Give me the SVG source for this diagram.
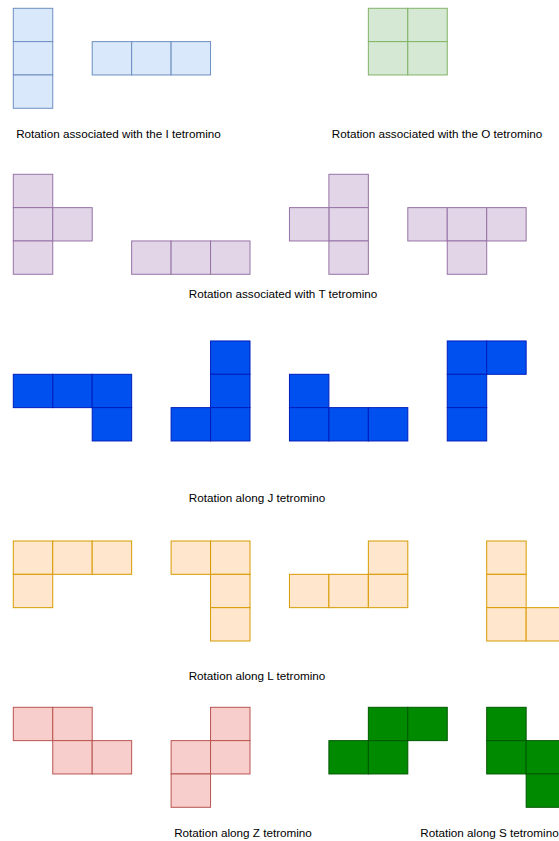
<svg xmlns="http://www.w3.org/2000/svg" width="559" height="841" viewBox="0 0 559 841">
<style>
rect{stroke-width:1}
.i{fill:#dae8fc;stroke:#6c8ebf}
.o{fill:#d5e8d4;stroke:#82b366}
.t{fill:#e1d5e7;stroke:#9673a6}
.j{fill:#0050ef;stroke:#001dbc}
.l{fill:#ffe6cc;stroke:#d79b00}
.z{fill:#f8cecc;stroke:#b85450}
.s{fill:#008a00;stroke:#005700}
text{font-family:"Liberation Sans",Arial,Helvetica,sans-serif;font-size:11.7px;fill:#000;text-anchor:middle}
</style>
<rect width="559" height="841" fill="#fff"/>
<g id="I1" class="i">
<rect x="13.3" y="8.3" width="39.45" height="33.33"/>
<rect x="13.3" y="41.63" width="39.45" height="33.33"/>
<rect x="13.3" y="74.96" width="39.45" height="33.33"/>
</g>
<g id="I2" class="i">
<rect x="92.2" y="41.63" width="39.45" height="33.33"/>
<rect x="131.65" y="41.63" width="39.45" height="33.33"/>
<rect x="171.1" y="41.63" width="39.45" height="33.33"/>
</g>
<g id="O" class="o">
<rect x="368.35" y="8.3" width="39.45" height="33.33"/>
<rect x="407.8" y="8.3" width="39.45" height="33.33"/>
<rect x="368.35" y="41.63" width="39.45" height="33.33"/>
<rect x="407.8" y="41.63" width="39.45" height="33.33"/>
</g>
<g id="T1" class="t">
<rect x="13.3" y="174.3" width="39.45" height="33.33"/>
<rect x="13.3" y="207.63" width="39.45" height="33.33"/>
<rect x="13.3" y="240.96" width="39.45" height="33.33"/>
<rect x="52.75" y="207.63" width="39.45" height="33.33"/>
</g>
<g id="T2" class="t">
<rect x="131.65" y="240.96" width="39.45" height="33.33"/>
<rect x="171.1" y="240.96" width="39.45" height="33.33"/>
<rect x="210.55" y="240.96" width="39.45" height="33.33"/>
</g>
<g id="T3" class="t">
<rect x="328.9" y="174.3" width="39.45" height="33.33"/>
<rect x="328.9" y="207.63" width="39.45" height="33.33"/>
<rect x="328.9" y="240.96" width="39.45" height="33.33"/>
<rect x="289.45" y="207.63" width="39.45" height="33.33"/>
</g>
<g id="T4" class="t">
<rect x="407.8" y="207.63" width="39.45" height="33.33"/>
<rect x="447.25" y="207.63" width="39.45" height="33.33"/>
<rect x="486.7" y="207.63" width="39.45" height="33.33"/>
<rect x="447.25" y="240.96" width="39.45" height="33.33"/>
</g>
<g id="J1" class="j">
<rect x="13.3" y="374.3" width="39.45" height="33.33"/>
<rect x="52.75" y="374.3" width="39.45" height="33.33"/>
<rect x="92.2" y="374.3" width="39.45" height="33.33"/>
<rect x="92.2" y="407.63" width="39.45" height="33.33"/>
</g>
<g id="J2" class="j">
<rect x="210.55" y="340.97" width="39.45" height="33.33"/>
<rect x="210.55" y="374.3" width="39.45" height="33.33"/>
<rect x="210.55" y="407.63" width="39.45" height="33.33"/>
<rect x="171.1" y="407.63" width="39.45" height="33.33"/>
</g>
<g id="J3" class="j">
<rect x="289.45" y="374.3" width="39.45" height="33.33"/>
<rect x="289.45" y="407.63" width="39.45" height="33.33"/>
<rect x="328.9" y="407.63" width="39.45" height="33.33"/>
<rect x="368.35" y="407.63" width="39.45" height="33.33"/>
</g>
<g id="J4" class="j">
<rect x="447.25" y="340.97" width="39.45" height="33.33"/>
<rect x="486.7" y="340.97" width="39.45" height="33.33"/>
<rect x="447.25" y="374.3" width="39.45" height="33.33"/>
<rect x="447.25" y="407.63" width="39.45" height="33.33"/>
</g>
<g id="L1" class="l">
<rect x="13.3" y="541" width="39.45" height="33.33"/>
<rect x="52.75" y="541" width="39.45" height="33.33"/>
<rect x="92.2" y="541" width="39.45" height="33.33"/>
<rect x="13.3" y="574.33" width="39.45" height="33.33"/>
</g>
<g id="L2" class="l">
<rect x="171.1" y="541" width="39.45" height="33.33"/>
<rect x="210.55" y="541" width="39.45" height="33.33"/>
<rect x="210.55" y="574.33" width="39.45" height="33.33"/>
<rect x="210.55" y="607.66" width="39.45" height="33.33"/>
</g>
<g id="L3" class="l">
<rect x="368.35" y="541" width="39.45" height="33.33"/>
<rect x="289.45" y="574.33" width="39.45" height="33.33"/>
<rect x="328.9" y="574.33" width="39.45" height="33.33"/>
<rect x="368.35" y="574.33" width="39.45" height="33.33"/>
</g>
<g id="L4" class="l">
<rect x="486.7" y="541" width="39.45" height="33.33"/>
<rect x="486.7" y="574.33" width="39.45" height="33.33"/>
<rect x="486.7" y="607.66" width="39.45" height="33.33"/>
<rect x="526.15" y="607.66" width="39.45" height="33.33"/>
</g>
<g id="Z1" class="z">
<rect x="13.3" y="707.3" width="39.45" height="33.33"/>
<rect x="52.75" y="707.3" width="39.45" height="33.33"/>
<rect x="52.75" y="740.63" width="39.45" height="33.33"/>
<rect x="92.2" y="740.63" width="39.45" height="33.33"/>
</g>
<g id="Z2" class="z">
<rect x="210.55" y="707.3" width="39.45" height="33.33"/>
<rect x="171.1" y="740.63" width="39.45" height="33.33"/>
<rect x="210.55" y="740.63" width="39.45" height="33.33"/>
<rect x="171.1" y="773.96" width="39.45" height="33.33"/>
</g>
<g id="S1" class="s">
<rect x="368.35" y="707.3" width="39.45" height="33.33"/>
<rect x="407.8" y="707.3" width="39.45" height="33.33"/>
<rect x="328.9" y="740.63" width="39.45" height="33.33"/>
<rect x="368.35" y="740.63" width="39.45" height="33.33"/>
</g>
<g id="S2" class="s">
<rect x="486.7" y="707.3" width="39.45" height="33.33"/>
<rect x="486.7" y="740.63" width="39.45" height="33.33"/>
<rect x="526.15" y="740.63" width="39.45" height="33.33"/>
<rect x="526.15" y="773.96" width="39.45" height="33.33"/>
</g>
<g id="labels">
<text x="118.5" y="138.3">Rotation associated with the I tetromino</text>
<text x="437" y="138.3">Rotation associated with the O tetromino</text>
<text x="283" y="298.3">Rotation associated with T tetromino</text>
<text x="257" y="501.7">Rotation along J tetromino</text>
<text x="257" y="680">Rotation along L tetromino</text>
<text x="243" y="837.3">Rotation along Z tetromino</text>
<text x="489.5" y="837.3">Rotation along S tetromino</text>
</g>
<g id="connectors"/>
</svg>
